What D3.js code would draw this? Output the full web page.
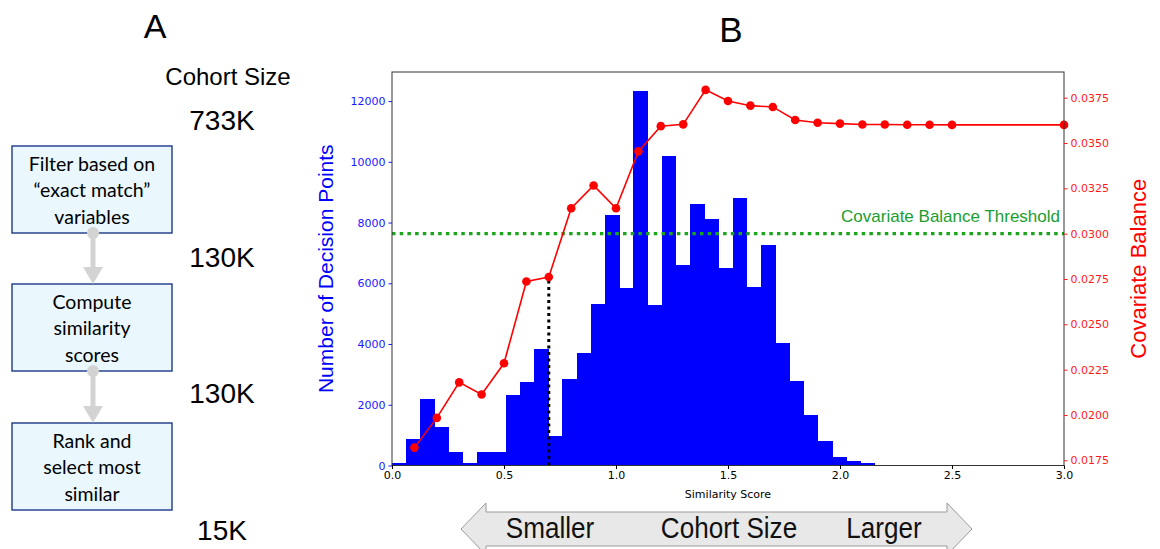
<!DOCTYPE html>
<html>
<head>
<meta charset="utf-8">
<script src="https://cdn.jsdelivr.net/npm/d3@7.9.0/dist/d3.min.js"></script>
<style>
  body { margin: 0; background: #fff; }
  svg { display: block; }
</style>
</head>
<body>
<svg id="fig" width="1160" height="549"></svg>
<script>
// histogram counts, 34 equal bins from 0 to histMax
const binCounts = [90, 880, 2190, 1280, 455, 90, 455, 455, 2310, 2750, 3820, 960,
  2860, 3700, 5310, 8250, 5850, 12340, 5280, 10190, 6600, 8610, 8110, 6490,
  8820, 5890, 7250, 4020, 2780, 1650, 820, 280, 140, 70];
const histMax = 2.155;

// covariate balance curve
const balanceX = [0.1, 0.2, 0.3, 0.4, 0.5, 0.6, 0.7, 0.8, 0.9, 1.0, 1.1, 1.2, 1.3,
  1.4, 1.5, 1.6, 1.7, 1.8, 1.9, 2.0, 2.1, 2.2, 2.3, 2.4, 2.5, 3.0];
const balanceY = [0.0182, 0.01984, 0.0218, 0.02113, 0.02285, 0.02736, 0.02761, 0.0314,
  0.03266, 0.0314, 0.03454, 0.03593, 0.03603, 0.03793, 0.03732, 0.03706, 0.03699,
  0.03627, 0.03612, 0.03607, 0.03602, 0.03602, 0.03601, 0.03601, 0.0360, 0.0360];

const threshold = 0.0300;
const cutoff = 0.7;

const xTicks = [0, 0.5, 1.0, 1.5, 2.0, 2.5, 3.0];
const leftTicks = [0, 2000, 4000, 6000, 8000, 10000, 12000];
const rightTicks = [0.0175, 0.0200, 0.0225, 0.0250, 0.0275, 0.0300, 0.0325, 0.0350, 0.0375];

// panel A
const steps = [
  ['Filter based on', '\u201cexact match\u201d', 'variables'],
  ['Compute', 'similarity', 'scores'],
  ['Rank and', 'select most', 'similar']
];
const cohortSizes = ['733K', '130K', '130K', '15K'];

const svg = d3.select('#fig');

// ---------- panel A ----------
const sans = 'Liberation Sans, Arial, sans-serif';
svg.append('text').attr('x', 155).attr('y', 38).attr('text-anchor', 'middle')
  .attr('font-family', sans).attr('font-size', 34).text('A');
svg.append('text').attr('x', 228).attr('y', 85).attr('text-anchor', 'middle')
  .attr('font-family', sans).attr('font-size', 24).text('Cohort Size');

const boxTop = [146, 284, 423];
const boxH = 87;
const sizeY = [130, 267, 403, 540];

steps.forEach((lines, i) => {
  const g = svg.append('g').attr('transform', `translate(12,${boxTop[i]})`);
  g.append('rect').attr('width', 160).attr('height', boxH)
    .attr('fill', '#eaf7fd').attr('stroke', '#2b4690').attr('stroke-width', 1.5);
  lines.forEach((t, j) => {
    g.append('text').attr('x', 80).attr('y', 24.5 + j * 26.5).attr('text-anchor', 'middle')
      .attr('font-family', 'Lato, Open Sans, sans-serif').attr('font-size', 19.5)
      .attr('fill', '#000').text(t);
  });
});

// connector arrows between boxes
[0, 1].forEach(i => {
  const y0 = boxTop[i] + boxH, y1 = boxTop[i + 1];
  svg.append('line').attr('x1', 93).attr('x2', 93).attr('y1', y0).attr('y2', y1 - 14)
    .attr('stroke', '#d3d3d3').attr('stroke-width', 5);
  svg.append('circle').attr('cx', 93).attr('cy', y0).attr('r', 6).attr('fill', '#d3d3d3');
  svg.append('path').attr('d', `M${93 - 10},${y1 - 17}L${93 + 10},${y1 - 17}L93,${y1}Z`)
    .attr('fill', '#d3d3d3');
});

cohortSizes.forEach((t, i) => {
  svg.append('text').attr('x', 222).attr('y', sizeY[i]).attr('text-anchor', 'middle')
    .attr('font-family', sans).attr('font-size', 28).text(t);
});

// ---------- panel B ----------
svg.append('text').attr('x', 731).attr('y', 42).attr('text-anchor', 'middle')
  .attr('font-family', sans).attr('font-size', 35).text('B');

const plotL = 392, plotR = 1064, plotT = 72, plotB = 465.5;
const x = d3.scaleLinear().domain([0, 3]).range([plotL, plotR]);
const yMax = d3.max(binCounts) * 1.05;
const yL = d3.scaleLinear().domain([0, yMax]).range([plotB, plotT]);
const bMin = d3.min(balanceY), bMax = d3.max(balanceY), pad = (bMax - bMin) * 0.05;
const yR = d3.scaleLinear().domain([bMin - pad, bMax + pad]).range([plotB, plotT]);

const binW = histMax / binCounts.length;
const bins = binCounts.map((c, i) => ({ x0: i * binW, x1: (i + 1) * binW, c }));

svg.append('g').attr('shape-rendering', 'crispEdges')
  .selectAll('rect').data(bins).join('rect')
  .attr('x', d => x(d.x0)).attr('width', d => x(d.x1) - x(d.x0) + 0.5)
  .attr('y', d => yL(d.c)).attr('height', d => yL(0) - yL(d.c))
  .attr('fill', '#0000ff');

// threshold line
svg.append('line').attr('x1', plotL).attr('x2', plotR)
  .attr('y1', yR(threshold)).attr('y2', yR(threshold))
  .attr('stroke', '#1aa51a').attr('stroke-width', 3.2).attr('stroke-dasharray', '3.5,4.2');
svg.append('text').attr('x', plotR - 4).attr('y', yR(threshold) - 12)
  .attr('text-anchor', 'end').attr('font-family', sans).attr('font-size', 17)
  .attr('fill', '#1a9e2e').text('Covariate Balance Threshold');

// cutoff line
const cutIdx = balanceX.indexOf(cutoff);
svg.append('line').attr('x1', x(cutoff)).attr('x2', x(cutoff))
  .attr('y1', plotB).attr('y2', yR(balanceY[cutIdx]))
  .attr('stroke', '#000').attr('stroke-width', 3).attr('stroke-dasharray', '3,3.5');

// balance curve
const pts = balanceX.map((v, i) => [v, balanceY[i]]);
svg.append('path').datum(pts)
  .attr('d', d3.line().x(d => x(d[0])).y(d => yR(d[1])))
  .attr('fill', 'none').attr('stroke', '#ff0000').attr('stroke-width', 1.6);
svg.append('g').selectAll('circle').data(pts).join('circle')
  .attr('cx', d => x(d[0])).attr('cy', d => yR(d[1])).attr('r', 4.3)
  .attr('fill', '#ff0000');

// frame
svg.append('rect').attr('x', plotL).attr('y', plotT).attr('width', plotR - plotL)
  .attr('height', plotB - plotT).attr('fill', 'none').attr('stroke', '#333').attr('stroke-width', 1);

// axes
const tickFont = 'DejaVu Sans, sans-serif';
const gx = svg.append('g').attr('transform', `translate(0,${plotB})`)
  .call(d3.axisBottom(x).tickValues(xTicks).tickFormat(d3.format('.1f')).tickSize(3.5).tickPadding(2));
gx.select('.domain').remove();
gx.selectAll('text').attr('font-family', tickFont).attr('font-size', 11).attr('fill', '#000');
gx.selectAll('line').attr('stroke', '#000');

const gl = svg.append('g').attr('transform', `translate(${plotL},0)`)
  .call(d3.axisLeft(yL).tickValues(leftTicks).tickFormat(d3.format('d')).tickSize(3.5).tickPadding(3));
gl.select('.domain').remove();
gl.selectAll('text').attr('font-family', tickFont).attr('font-size', 11).attr('fill', '#1a1aff');
gl.selectAll('line').attr('stroke', '#1a1aff');

const gr = svg.append('g').attr('transform', `translate(${plotR},0)`)
  .call(d3.axisRight(yR).tickValues(rightTicks).tickFormat(d3.format('.4f')).tickSize(3.5).tickPadding(3));
gr.select('.domain').remove();
gr.selectAll('text').attr('font-family', tickFont).attr('font-size', 11).attr('fill', '#ff1a1a');
gr.selectAll('line').attr('stroke', '#ff1a1a');

svg.append('text').attr('x', (plotL + plotR) / 2).attr('y', 498).attr('text-anchor', 'middle')
  .attr('font-family', tickFont).attr('font-size', 11).text('Similarity Score');

svg.append('text').attr('transform', `translate(333,${(plotT + plotB) / 2}) rotate(-90)`)
  .attr('text-anchor', 'middle').attr('font-family', sans).attr('font-size', 21)
  .attr('fill', '#0000ff').text('Number of Decision Points');
svg.append('text').attr('transform', `translate(1146,${(plotT + plotB) / 2}) rotate(-90)`)
  .attr('text-anchor', 'middle').attr('font-family', sans).attr('font-size', 22)
  .attr('fill', '#ff0000').text('Covariate Balance');

// ---------- bottom arrow ----------
const ay = 529, bodyH = 34, headH = 52, headL = 25, ax0 = 461, ax1 = 972;
const arrowPts = [
  [ax0, ay], [ax0 + headL, ay - headH / 2], [ax0 + headL, ay - bodyH / 2],
  [ax1 - headL, ay - bodyH / 2], [ax1 - headL, ay - headH / 2], [ax1, ay],
  [ax1 - headL, ay + headH / 2], [ax1 - headL, ay + bodyH / 2],
  [ax0 + headL, ay + bodyH / 2], [ax0 + headL, ay + headH / 2]
];
svg.append('path').attr('d', d3.line()(arrowPts) + 'Z')
  .attr('fill', '#e8e8e8').attr('stroke', '#9a9a9a').attr('stroke-width', 1);

// slightly condensed labels inside the arrow
const arrowLabels = [['Smaller', 550], ['Cohort Size', 729], ['Larger', 884]];
arrowLabels.forEach(([t, cx]) => {
  svg.append('text').attr('transform', `translate(${cx},538) scale(0.9,1)`)
    .attr('text-anchor', 'middle')
    .attr('font-family', sans).attr('font-size', 29)
    .attr('fill', '#111').text(t);
});
</script>
</body>
</html>
